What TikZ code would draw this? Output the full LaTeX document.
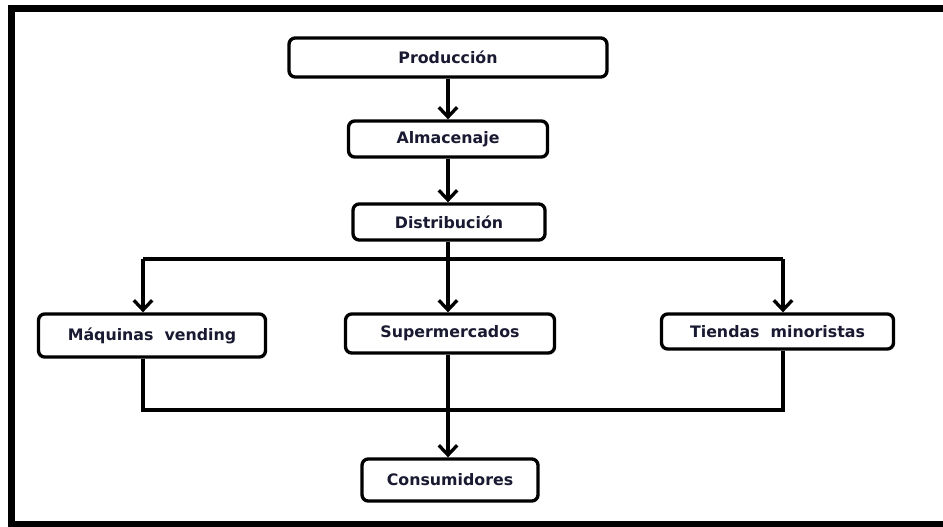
\documentclass[tikz,border=0pt]{standalone}
\usepackage{fontspec}
\setmainfont{DejaVu Sans}
\usetikzlibrary{arrows.meta}
\definecolor{textoazul}{RGB}{25,25,50}
\tikzset{
  etapa/.style={draw, line width=1.9pt, rounded corners=3.5pt, fill=white,
    font=\fontsize{9}{11}\selectfont\bfseries, text=textoazul, inner sep=0pt},
  flecha/.style={line width=1.9pt, -{Straight Barb[length=5.5pt,width=10.5pt,line width=1.9pt]}},
  linea/.style={line width=1.9pt}
}
\begin{document}
\begin{tikzpicture}[x=0.02cm, y=-0.02cm]
        \useasboundingbox (0,0) rectangle (943,527);
        % Outer frame
        \draw[line width=4pt] (950,8.5) -| (11.5,524.5) -- (950,524.5);

        % Stages
        \node[etapa, minimum width=6.36cm, minimum height=0.78cm] (prod) at (448,57.5) {Producción};
        \node[etapa, minimum width=3.98cm, minimum height=0.72cm] (alm) at (448,139) {Almacenaje};
        \node[etapa, minimum width=3.84cm, minimum height=0.72cm] (dist) at (449,222) {Distribución};
        \node[etapa, minimum width=4.54cm, minimum height=0.86cm] (maq) at (152,335.5) {Máquinas\ \ vending};
        \node[etapa, minimum width=4.18cm, minimum height=0.78cm] (sup) at (450,333.5) {Supermercados};
        \node[etapa, minimum width=4.64cm, minimum height=0.70cm] (tie) at (777.5,331.5) {Tiendas\ \ minoristas};
        \node[etapa, minimum width=3.52cm, minimum height=0.84cm] (cons) at (450,480) {Consumidores};

        % Junction points
        \coordinate (repIzq) at (143,259);
        \coordinate (repCen) at (448,259);
        \coordinate (repDer) at (783,259);
        \coordinate (recIzq) at (143,410);
        \coordinate (recCen) at (448,410);
        \coordinate (recDer) at (783,410);

        % Main chain
        \draw[flecha] (prod.south -| 448,0) -- (alm.north -| 448,0);
        \draw[flecha] (alm.south -| 448,0) -- (dist.north -| 448,0);

        % Distribution branches
        \draw[linea] (dist.south -| repCen) -- (repCen);
        \draw[linea] (repIzq) -- (repDer);
        \draw[flecha] (repIzq) -- (repIzq |- maq.north);
        \draw[flecha] (repCen) -- (repCen |- sup.north);
        \draw[flecha] (repDer) -- (repDer |- tie.north);

        % Collection to consumers
        \draw[linea] (recIzq |- maq.south) -- (recIzq) -- (recDer) -- (recDer |- tie.south);
        \draw[flecha] (recCen |- sup.south) -- (recCen |- cons.north);
\end{tikzpicture}
\end{document}
